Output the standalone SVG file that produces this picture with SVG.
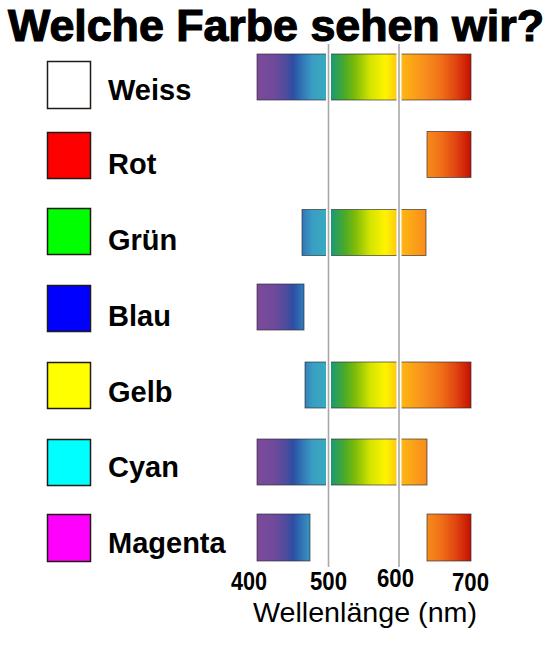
<svg xmlns="http://www.w3.org/2000/svg" width="554" height="646" viewBox="0 0 554 646">
  <defs>
    <linearGradient id="spec" gradientUnits="userSpaceOnUse" x1="257" y1="0" x2="471" y2="0">
      <stop offset="0" stop-color="#7b4a98"/>
      <stop offset="0.08" stop-color="#704a9c"/>
      <stop offset="0.14" stop-color="#4c4c9e"/>
      <stop offset="0.17" stop-color="#2c4fa4"/>
      <stop offset="0.21" stop-color="#3274b6"/>
      <stop offset="0.26" stop-color="#3a9ec2"/>
      <stop offset="0.32" stop-color="#38aac0"/>
      <stop offset="0.345" stop-color="#1a9878"/>
      <stop offset="0.41" stop-color="#4aaa28"/>
      <stop offset="0.46" stop-color="#80bc08"/>
      <stop offset="0.53" stop-color="#d4e400"/>
      <stop offset="0.6" stop-color="#fff400"/>
      <stop offset="0.645" stop-color="#fed010"/>
      <stop offset="0.68" stop-color="#ffb414"/>
      <stop offset="0.78" stop-color="#f8901c"/>
      <stop offset="0.86" stop-color="#f07018"/>
      <stop offset="0.93" stop-color="#e04410"/>
      <stop offset="1" stop-color="#c41000"/>
    </linearGradient>
  </defs>
  <style>
    .title { font-family: "Liberation Sans", Arial, sans-serif; font-weight: bold; font-size: 44px; fill: #000; stroke: #000; stroke-width: 1.2px; }
    .lbl { font-family: "Liberation Sans", Arial, sans-serif; font-weight: bold; font-size: 29px; fill: #000; }
    .tick { font-family: "Liberation Sans", Arial, sans-serif; font-weight: bold; font-size: 25px; fill: #000; }
    .axis { font-family: "Liberation Sans", Arial, sans-serif; font-size: 28px; fill: #000; }
    .sw { stroke: #231a14; stroke-width: 1.5; }
    .bar { fill: url(#spec); stroke: #2a2a30; stroke-width: 0.8; stroke-opacity: 0.8; }
    .gap { stroke: #fff; stroke-width: 5; }
    .grid { stroke: #a8a8a8; stroke-width: 1.6; }
  </style>
  <rect width="554" height="646" fill="#fff"/>
  <text class="title" x="8" y="41" textLength="536" lengthAdjust="spacingAndGlyphs">Welche Farbe sehen wir?</text>

  <g id="weiss">
    <rect class="sw" x="47.5" y="61.5" width="43" height="47" fill="#ffffff"/>
    <text class="lbl" x="108" y="100">Weiss</text>
    <rect class="bar" x="257" y="54" width="214" height="46"/>
  </g>
  <g id="rot">
    <rect class="sw" x="47.5" y="132.5" width="43" height="46" fill="#ff0000"/>
    <text class="lbl" x="108" y="174">Rot</text>
    <rect class="bar" x="427" y="131.5" width="44" height="46"/>
  </g>
  <g id="gruen">
    <rect class="sw" x="47.5" y="208.5" width="43" height="46" fill="#00ff00"/>
    <text class="lbl" x="108" y="250">Grün</text>
    <rect class="bar" x="302" y="209.5" width="124" height="46"/>
  </g>
  <g id="blau">
    <rect class="sw" x="47.5" y="285.5" width="43" height="46" fill="#0000ff"/>
    <text class="lbl" x="108" y="326">Blau</text>
    <rect class="bar" x="257" y="284" width="47" height="46"/>
  </g>
  <g id="gelb">
    <rect class="sw" x="47.5" y="362.5" width="43" height="46" fill="#ffff00"/>
    <text class="lbl" x="108" y="402">Gelb</text>
    <rect class="bar" x="305" y="362" width="166" height="46"/>
  </g>
  <g id="cyan">
    <rect class="sw" x="47.5" y="439.5" width="43" height="46" fill="#00ffff"/>
    <text class="lbl" x="108" y="477">Cyan</text>
    <rect class="bar" x="257" y="439" width="170" height="46"/>
  </g>
  <g id="magenta">
    <rect class="sw" x="47.5" y="514.5" width="43" height="47" fill="#ff00ff"/>
    <text class="lbl" x="108" y="553">Magenta</text>
    <rect class="bar" x="257" y="514" width="53" height="47"/>
    <rect class="bar" x="427" y="514" width="44" height="47"/>
  </g>

  <g id="connectors">
    <line class="gap" x1="328.5" y1="44" x2="328.5" y2="567"/>
    <line class="gap" x1="399" y1="44" x2="399" y2="567"/>
    <line class="grid" x1="328.5" y1="44" x2="328.5" y2="567"/>
    <line class="grid" x1="399" y1="44" x2="399" y2="567"/>
  </g>

  <g id="axis">
    <text class="tick" x="231" y="590" textLength="36" lengthAdjust="spacingAndGlyphs">400</text>
    <text class="tick" x="310" y="590" textLength="37" lengthAdjust="spacingAndGlyphs">500</text>
    <text class="tick" x="377" y="587" textLength="37" lengthAdjust="spacingAndGlyphs">600</text>
    <text class="tick" x="452" y="591" textLength="37" lengthAdjust="spacingAndGlyphs">700</text>
    <text class="axis" x="253" y="622" textLength="224" lengthAdjust="spacingAndGlyphs">Wellenlänge (nm)</text>
  </g>
</svg>
